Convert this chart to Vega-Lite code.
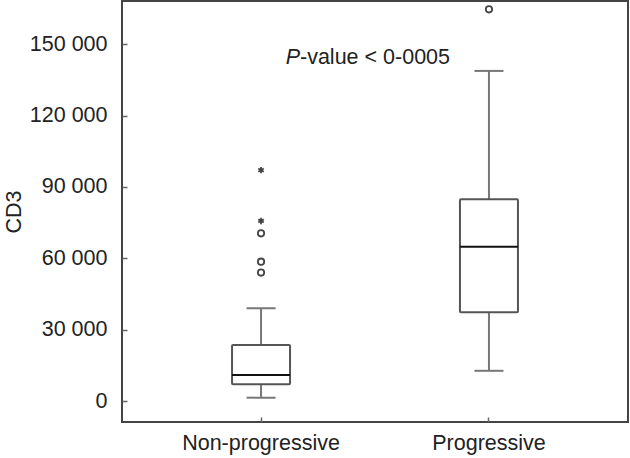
{
  "$schema": "https://vega.github.io/schema/vega-lite/v6.json",
  "width": 506,
  "height": 421,
  "autosize": {"type": "none"},
  "padding": {"left": 122, "top": 1, "right": 2, "bottom": 36},
  "background": "white",
  "config": {
    "view": {"stroke": "#444444", "strokeWidth": 2},
    "font": "Liberation Sans",
    "axis": {
      "labelFont": "Liberation Sans",
      "titleFont": "Liberation Sans",
      "labelColor": "#222222",
      "titleColor": "#222222",
      "labelFontSize": 21.5,
      "titleFontSize": 21.5,
      "titleFontWeight": "normal",
      "domain": false,
      "grid": false,
      "tickColor": "#666666",
      "tickWidth": 1.5
    }
  },
  "datasets": {
    "boxes": [
      {"group": "Non-progressive", "lower": 1400, "q1": 7000, "median": 10900, "q3": 23500, "upper": 39000},
      {"group": "Progressive", "lower": 12700, "q1": 37300, "median": 64900, "q3": 84800, "upper": 138800}
    ],
    "outliers": [
      {"group": "Non-progressive", "value": 97100, "kind": "extreme"},
      {"group": "Non-progressive", "value": 75700, "kind": "extreme"},
      {"group": "Non-progressive", "value": 70500, "kind": "outlier"},
      {"group": "Non-progressive", "value": 58600, "kind": "outlier"},
      {"group": "Non-progressive", "value": 54000, "kind": "outlier"},
      {"group": "Progressive", "value": 164700, "kind": "outlier"}
    ],
    "notes": [
      {"group": "Progressive", "y": 144200, "italic": "P", "rest": "-value < 0-0005"}
    ]
  },
  "encoding": {
    "x": {
      "field": "group",
      "type": "nominal",
      "sort": ["Non-progressive", "Progressive"],
      "scale": {"paddingInner": 0, "paddingOuter": 0.11},
      "axis": {"title": null, "labelAngle": 0, "tickSize": -5, "labelPadding": 15}
    }
  },
  "layer": [
    {
      "data": {"name": "boxes"},
      "mark": {"type": "rule", "color": "#777777", "strokeWidth": 2},
      "encoding": {
        "y": {
          "field": "lower",
          "type": "quantitative",
          "scale": {"domain": [-8830, 168200], "nice": false, "zero": false},
          "axis": {
            "title": "CD3",
            "values": [0, 30000, 60000, 90000, 120000, 150000],
            "labelExpr": "datum.value == 0 ? '0' : format(datum.value / 1000, 'd') + ' 000'",
            "tickSize": -5,
            "labelPadding": 20,
            "titlePadding": 4
          }
        },
        "y2": {"field": "q1"}
      }
    },
    {
      "data": {"name": "boxes"},
      "mark": {"type": "rule", "color": "#777777", "strokeWidth": 2},
      "encoding": {
        "y": {"field": "q3", "type": "quantitative"},
        "y2": {"field": "upper"}
      }
    },
    {
      "data": {"name": "boxes"},
      "mark": {"type": "tick", "color": "#777777", "size": 29, "thickness": 2, "opacity": 1},
      "encoding": {"y": {"field": "lower", "type": "quantitative"}}
    },
    {
      "data": {"name": "boxes"},
      "mark": {"type": "tick", "color": "#777777", "size": 29, "thickness": 2, "opacity": 1},
      "encoding": {"y": {"field": "upper", "type": "quantitative"}}
    },
    {
      "data": {"name": "boxes"},
      "mark": {"type": "bar", "size": 58, "fill": "white", "stroke": "#555555", "strokeWidth": 2, "cornerRadius": 1},
      "encoding": {
        "y": {"field": "q1", "type": "quantitative"},
        "y2": {"field": "q3"}
      }
    },
    {
      "data": {"name": "boxes"},
      "mark": {"type": "tick", "color": "#111111", "size": 58, "thickness": 2, "opacity": 1},
      "encoding": {"y": {"field": "median", "type": "quantitative"}}
    },
    {
      "data": {"name": "outliers"},
      "mark": {"type": "point", "filled": false, "strokeWidth": 1.8, "opacity": 1, "color": "#444444"},
      "encoding": {
        "y": {"field": "value", "type": "quantitative"},
        "shape": {
          "field": "kind",
          "type": "nominal",
          "scale": {"domain": ["outlier", "extreme"], "range": ["circle", "M0,-1L0,1M-0.87,-0.5L0.87,0.5M-0.87,0.5L0.87,-0.5"]},
          "legend": null
        },
        "size": {
          "field": "kind",
          "type": "nominal",
          "scale": {"domain": ["outlier", "extreme"], "range": [40, 40]},
          "legend": null
        }
      }
    },
    {
      "data": {"name": "notes"},
      "mark": {"type": "text", "fontSize": 21.5, "fontStyle": "italic", "align": "right", "baseline": "middle", "dx": -75, "color": "#222222", "font": "Liberation Sans"},
      "encoding": {
        "x": {"field": "group", "type": "nominal", "bandPosition": 0},
        "y": {"field": "y", "type": "quantitative"},
        "text": {"field": "italic"}
      }
    },
    {
      "data": {"name": "notes"},
      "mark": {"type": "text", "fontSize": 21.5, "align": "left", "baseline": "middle", "dx": -75, "color": "#222222", "font": "Liberation Sans"},
      "encoding": {
        "x": {"field": "group", "type": "nominal", "bandPosition": 0},
        "y": {"field": "y", "type": "quantitative"},
        "text": {"field": "rest"}
      }
    }
  ]
}
